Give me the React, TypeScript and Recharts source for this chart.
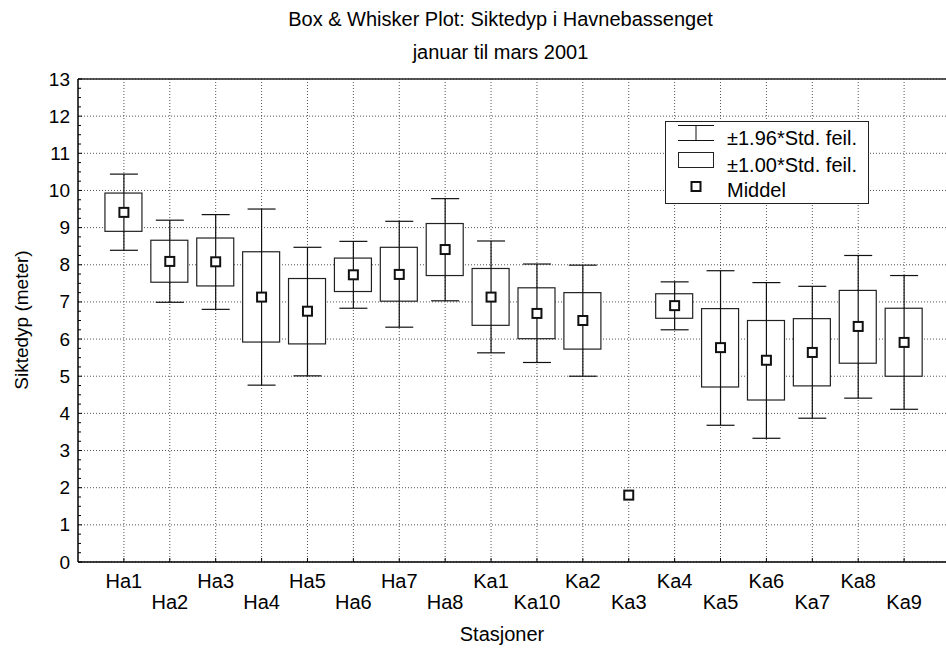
import React from 'react';
import {
  ComposedChart,
  XAxis,
  YAxis,
  CartesianGrid,
  Bar,
  Scatter,
  ErrorBar,
  ReferenceLine,
} from 'recharts';

const FONT = '"Liberation Sans", Arial, Helvetica, sans-serif';

const stations = ['Ha1', 'Ha2', 'Ha3', 'Ha4', 'Ha5', 'Ha6', 'Ha7', 'Ha8', 'Ka1', 'Ka10', 'Ka2', 'Ka3', 'Ka4', 'Ka5', 'Ka6', 'Ka7', 'Ka8', 'Ka9'];
const means = [9.41, 8.09, 8.08, 7.13, 6.75, 7.73, 7.74, 8.41, 7.13, 6.69, 6.5, 1.8, 6.9, 5.77, 5.43, 5.64, 6.34, 5.91];
const seLow: (number | null)[] = [8.9, 7.53, 7.43, 5.92, 5.87, 7.28, 7.02, 7.71, 6.37, 6.01, 5.73, null, 6.56, 4.71, 4.36, 4.74, 5.35, 5.0];
const seHigh: (number | null)[] = [9.93, 8.66, 8.72, 8.35, 7.63, 8.18, 8.47, 9.11, 7.9, 7.38, 7.25, null, 7.22, 6.82, 6.5, 6.55, 7.31, 6.83];
const ciLow: (number | null)[] = [8.39, 6.99, 6.8, 4.76, 5.01, 6.83, 6.32, 7.03, 5.63, 5.37, 5.0, null, 6.25, 3.68, 3.33, 3.87, 4.41, 4.11];
const ciHigh: (number | null)[] = [10.44, 9.2, 9.35, 9.5, 8.47, 8.63, 9.17, 9.78, 8.64, 8.02, 7.99, null, 7.54, 7.84, 7.52, 7.42, 8.25, 7.71];

const yTickLabels = [0, 1, 2, 3, 4, 5, 6, 7, 8, 9, 10, 11, 12, 13];
const yMinorStep = 0.25;
const xPositions = stations.map((_, i) => i + 1);

const rows = stations.map((name, i) => ({
  pos: xPositions[i],
  name,
  mean: means[i],
  box: seLow[i] != null && seHigh[i] != null ? [seLow[i], seHigh[i]] : null,
  err: ciLow[i] != null && ciHigh[i] != null ? [means[i] - (ciLow[i] as number), (ciHigh[i] as number) - means[i]] : null,
}));
const whiskerRows = rows.filter((r) => r.err != null);

const yTicksAll: number[] = [];
for (let v = yTickLabels[0]; v <= yTickLabels[yTickLabels.length - 1] + 1e-9; v += yMinorStep) {
  yTicksAll.push(Math.round(v * 100) / 100);
}

const XTick = (props: any) => {
  const { x, y, payload } = props;
  const idx = xPositions.indexOf(payload.value);
  const label = idx >= 0 ? stations[idx] : '';
  const lower = idx % 2 === 1;
  return (
    <g>
      <line x1={x} y1={y} x2={x} y2={y - 4} stroke="#000" strokeWidth={1} />
      <text x={x} y={y + (lower ? 47 : 26)} textAnchor="middle" fontSize={20} fontFamily={FONT} fill="#000">
        {label}
      </text>
    </g>
  );
};

const YTick = (props: any) => {
  const { x, y, payload } = props;
  const v = payload.value;
  const isMajor = Math.abs(v - Math.round(v)) < 1e-6;
  return (
    <g>
      <line x1={x} y1={y} x2={x + (isMajor ? 4 : 3)} y2={y} stroke="#000" strokeWidth={1} />
      {isMajor && (
        <text x={x - 8} y={y + 6.5} textAnchor="end" fontSize={19} fontFamily={FONT} fill="#000">
          {v}
        </text>
      )}
    </g>
  );
};

const BoxShape = (props: any) => {
  const { x, y, width, height, payload } = props;
  if (!payload || !payload.box) return <g />;
  const top = Math.min(y, y + height);
  const h = Math.abs(height);
  return <rect x={x} y={top} width={width} height={h} fill="#fff" stroke="#222" strokeWidth={1.2} />;
};

const MeanShape = (props: any) => {
  const { cx, cy } = props;
  return <rect x={cx - 4.5} y={cy - 4.5} width={9} height={9} fill="#fff" stroke="#111" strokeWidth={2} />;
};

const EmptyShape = () => <g />;

export default function App() {
  return (
    <div style={{ position: 'absolute', left: 0, top: 0, width: 946, height: 648, overflow: 'hidden', background: '#fff' }}>
      <ComposedChart width={950} height={648} data={rows} margin={{ top: 79, right: 0, bottom: 0, left: 0 }}>
        <CartesianGrid
          horizontalValues={yTickLabels}
          verticalValues={xPositions}
          strokeDasharray="1 2"
          stroke="#555"
        />
        <XAxis
          dataKey="pos"
          type="number"
          domain={[0, 19]}
          ticks={xPositions}
          interval={0}
          height={86}
          tickSize={0}
          tickMargin={0}
          tickLine={false}
          tick={<XTick />}
          axisLine={{ stroke: '#000', strokeWidth: 1.5 }}
          allowDataOverflow
        />
        <YAxis
          type="number"
          domain={[0, 13]}
          ticks={yTicksAll}
          interval={0}
          width={78}
          tickSize={0}
          tickMargin={0}
          tickLine={false}
          tick={<YTick />}
          axisLine={{ stroke: '#000', strokeWidth: 1.5 }}
          allowDataOverflow
        />
        <ReferenceLine y={13} stroke="#222" strokeWidth={1.5} />
        <Scatter data={whiskerRows} dataKey="mean" shape={<EmptyShape />} isAnimationActive={false}>
          <ErrorBar dataKey="err" direction="y" width={14} stroke="#111" strokeWidth={1.2} />
        </Scatter>
        <Bar dataKey="box" barSize={37} isAnimationActive={false} shape={<BoxShape />} />
        <Scatter dataKey="mean" shape={<MeanShape />} isAnimationActive={false} />
      </ComposedChart>
      <svg width={946} height={648} style={{ position: 'absolute', left: 0, top: 0, pointerEvents: 'none' }}>
        <text x={500.5} y={26} textAnchor="middle" fontSize={20} fontFamily={FONT} fill="#000">
          Box &amp; Whisker Plot: Siktedyp i Havnebassenget
        </text>
        <text x={500.5} y={59} textAnchor="middle" fontSize={20} fontFamily={FONT} fill="#000">
          januar til mars 2001
        </text>
        <text x={502} y={641} textAnchor="middle" fontSize={20} fontFamily={FONT} fill="#000">
          Stasjoner
        </text>
        <text
          x={28}
          y={320}
          textAnchor="middle"
          fontSize={19}
          fontFamily={FONT}
          fill="#000"
          transform="rotate(-90, 28, 320)"
        >
          Siktedyp (meter)
        </text>
        <g>
          <rect x={665.5} y={121.5} width={203} height={82} fill="#fff" stroke="#222" strokeWidth={1} />
          <line x1={678} y1={125.5} x2={714} y2={125.5} stroke="#111" />
          <line x1={678} y1={140.5} x2={714} y2={140.5} stroke="#111" />
          <line x1={696} y1={125.5} x2={696} y2={140.5} stroke="#111" />
          <text x={727} y={145} fontSize={20} fontFamily={FONT} fill="#000">±1.96*Std. feil.</text>
          <rect x={678.5} y={152.5} width={35} height={15} fill="#fff" stroke="#222" strokeWidth={1} />
          <text x={727} y={171.5} fontSize={20} fontFamily={FONT} fill="#000">±1.00*Std. feil.</text>
          <rect x={691.5} y={182} width={9} height={9} fill="#fff" stroke="#111" strokeWidth={2} />
          <text x={727} y={196.5} fontSize={20} fontFamily={FONT} fill="#000">Middel</text>
        </g>
      </svg>
    </div>
  );
}
